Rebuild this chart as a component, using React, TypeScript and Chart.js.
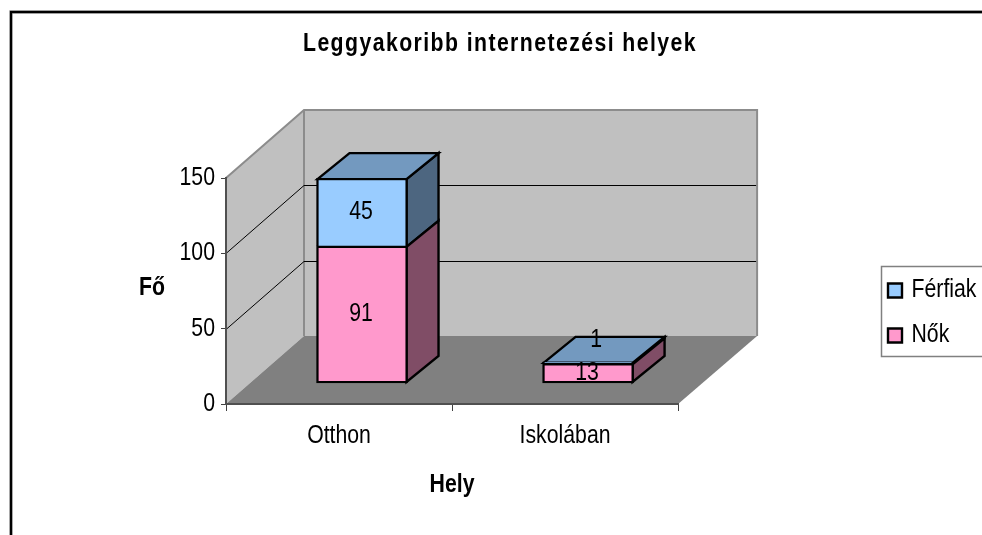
import React, { useEffect, useRef } from "react";
import { Chart, registerables } from "chart.js";

Chart.register(...registerables);

const categories = ["Otthon", "Iskolában"];
const nokValues = [91, 13];
const ferfiakValues = [45, 1];
const yTicks = [0, 50, 100, 150];
const chartTitle = "Leggyakoribb internetezési helyek";
const xTitle = "Hely";
const yTitle = "Fő";

const FONT = "'Liberation Sans', Arial, sans-serif";
const TEXT_SQUEEZE = 0.85;
const WALL_DX = 78;
const WALL_DY = 68;
const BAR_DX = 32;
const BAR_DY = 26;
const BAR_SHIFT_X = 23 / 226;
const BAR_SHIFT_Y = 21 / (226 / 150);

const poly = (ctx: CanvasRenderingContext2D, pts: number[][], fill: string, stroke?: string, lw = 2.4) => {
  ctx.beginPath();
  pts.forEach((p, i) => (i ? ctx.lineTo(p[0], p[1]) : ctx.moveTo(p[0], p[1])));
  ctx.closePath();
  ctx.fillStyle = fill;
  ctx.fill();
  if (stroke) {
    ctx.strokeStyle = stroke;
    ctx.lineWidth = lw;
    ctx.lineJoin = "miter";
    ctx.stroke();
  }
};

const scene = {
  id: "scene3d",
  afterLayout(chart: any) {
    const lg = chart.legend;
    lg.left = 868;
    lg.right = lg.left + lg.width;
    lg.top = 206;
    lg.bottom = 420;
    const tb = chart.titleBlock;
    if (!tb._spaced) {
      tb._spaced = true;
      const d = tb.draw.bind(tb);
      tb.draw = () => {
        (chart.ctx as any).letterSpacing = "1.67px";
        d();
        (chart.ctx as any).letterSpacing = "0px";
      };
      const ld = lg.draw.bind(lg);
      lg.draw = () => {
        (chart.ctx as any)._textShift = -3;
        ld();
        (chart.ctx as any)._textShift = 0;
      };
    }
  },
  beforeDraw(chart: any) {
    const ctx: CanvasRenderingContext2D = chart.ctx;
    const { x, y } = chart.scales;
    const l = x.left, r = x.right;
    const top = y.getPixelForValue(150), bot = y.getPixelForValue(0);
    ctx.save();
    ctx.fillStyle = "#fff";
    ctx.fillRect(0, 0, chart.width, chart.height);
    // outer frame
    ctx.strokeStyle = "#d4d4d4";
    ctx.lineWidth = 4;
    ctx.beginPath();
    ctx.moveTo(11, chart.height);
    ctx.lineTo(11, 12);
    ctx.lineTo(chart.width, 12);
    ctx.stroke();
    ctx.strokeStyle = "#000";
    ctx.lineWidth = 2.4;
    ctx.stroke();
    // walls
    poly(ctx, [[l, top], [l + WALL_DX, top - WALL_DY], [l + WALL_DX, bot - WALL_DY], [l, bot]], "#c0c0c0");
    ctx.fillStyle = "#c0c0c0";
    ctx.fillRect(l + WALL_DX, top - WALL_DY, r - l + 1, bot - top);
    poly(ctx, [[l, bot], [l + WALL_DX, bot - WALL_DY], [r + WALL_DX + 1, bot - WALL_DY], [r, bot]], "#808080");
    // wall edges
    ctx.strokeStyle = "#8c8c8c";
    ctx.lineWidth = 2;
    ctx.beginPath();
    ctx.moveTo(l, top);
    ctx.lineTo(l + WALL_DX, top - WALL_DY);
    ctx.lineTo(r + WALL_DX + 1, top - WALL_DY);
    ctx.lineTo(r + WALL_DX + 1, bot - WALL_DY);
    ctx.moveTo(l + WALL_DX, top - WALL_DY);
    ctx.lineTo(l + WALL_DX, bot - WALL_DY);
    ctx.stroke();
    // gridlines
    ctx.strokeStyle = "#000";
    ctx.lineWidth = 1;
    yTicks.slice(1, -1).forEach((v) => {
      const py = Math.round(y.getPixelForValue(v)) + 0.5;
      ctx.beginPath();
      ctx.moveTo(l, py);
      ctx.lineTo(l + WALL_DX, py - WALL_DY);
      ctx.lineTo(r + WALL_DX, py - WALL_DY);
      ctx.stroke();
    });
    // legend frame
    ctx.strokeStyle = "#808080";
    ctx.lineWidth = 1.5;
    ctx.beginPath();
    ctx.moveTo(chart.width, 266.5);
    ctx.lineTo(881.5, 266.5);
    ctx.lineTo(881.5, 356.5);
    ctx.lineTo(chart.width, 356.5);
    ctx.stroke();
    ctx.restore();
  },
  beforeDatasetsDraw(chart: any) {
    const ctx: CanvasRenderingContext2D = chart.ctx;
    const metas = [chart.getDatasetMeta(0), chart.getDatasetMeta(1)];
    const sideCols = ["#804D66", "#4D6680"];
    const topCol = "#7399BF";
    ctx.save();
    metas.slice().reverse().forEach((meta: any, rev: number) => {
      const di = metas.length - 1 - rev;
      meta.data.forEach((bar: any) => {
        const { x, y, base, width } = bar.getProps(["x", "y", "base", "width"], true);
        const R = x + width / 2 - 1;
        const low = di === 0 ? base - 1 : base + 1;
        poly(ctx, [[R, y + 1], [R + BAR_DX, y + 1 - BAR_DY], [R + BAR_DX, low - BAR_DY], [R, low]], sideCols[di], "#000");
        if (di === metas.length - 1) {
          const L = x - width / 2 + 1;
          poly(ctx, [[L, y + 1], [L + BAR_DX, y + 1 - BAR_DY], [R + BAR_DX, y + 1 - BAR_DY], [R, y + 1]], topCol, "#000");
        }
      });
    });
    ctx.restore();
  },
  afterDatasetsDraw(chart: any) {
    const ctx: CanvasRenderingContext2D = chart.ctx;
    ctx.save();
    ctx.fillStyle = "#000";
    ctx.textAlign = "center";
    ctx.textBaseline = "middle";
    ctx.font = `25px ${FONT}`;
    chart.data.datasets.forEach((ds: any, di: number) => {
      chart.getDatasetMeta(di).data.forEach((bar: any, i: number) => {
        const { x, y, base } = bar.getProps(["x", "y", "base"], true);
        const thin = Math.abs(base - y) < 5;
        const lx = thin ? x + 8 : x - 1;
        const ly = thin ? y - 22 : (y + base) / 2;
        ctx.fillText(String(ds.data[i].y), lx, ly);
      });
    });
    ctx.font = `bold 25px ${FONT}`;
    ctx.fillText(yTitle, 152, 288);
    ctx.restore();
  },
};

export default function App() {
  const ref = useRef<HTMLCanvasElement>(null);
  useEffect(() => {
    document.body.style.margin = "0";
    document.body.style.overflow = "hidden";
    const canvas = ref.current as HTMLCanvasElement;
    const c2d = canvas.getContext("2d") as any;
    // The reference's type is taller than it is wide: squeeze every text run around its anchor.
    const rawFillText = c2d.fillText.bind(c2d);
    c2d.fillText = (t: string, px: number, py: number, maxW?: number) => {
      c2d.save();
      c2d.translate(px + (c2d._textShift || 0), 0);
      c2d.scale(TEXT_SQUEEZE, 1);
      if (maxW === undefined) rawFillText(t, 0, py);
      else rawFillText(t, 0, py, maxW / TEXT_SQUEEZE);
      c2d.restore();
    };
    const chart = new Chart(canvas, {
      type: "bar",
      data: {
        labels: categories,
        datasets: [
          {
            label: "Nők",
            data: nokValues.map((v, i) => ({ x: i, y: v })),
            backgroundColor: "#FF99CC",
            borderColor: "#000",
            borderWidth: 2.4,
            borderSkipped: false,
            barThickness: 91,
            xAxisID: "xBars",
            yAxisID: "yBars",
          },
          {
            label: "Férfiak",
            data: ferfiakValues.map((v, i) => ({ x: i, y: v })),
            backgroundColor: "#99CCFF",
            borderColor: "#000",
            borderWidth: 2.4,
            borderSkipped: "bottom",
            barThickness: 91,
            xAxisID: "xBars",
            yAxisID: "yBars",
          },
        ],
      } as any,
      options: {
        responsive: false,
        animation: false,
        layout: { padding: { left: 18, top: 0, right: 0, bottom: 0 } },
        plugins: {
          tooltip: { enabled: false },
          title: {
            display: true,
            text: chartTitle,
            color: "#000",
            font: { family: FONT, size: 25, weight: "bold", lineHeight: 1.2 },
            padding: { top: 29, bottom: 119 },
          },
          legend: {
            display: true,
            position: "right",
            reverse: true,
            labels: {
              boxWidth: 14,
              boxHeight: 14,
              padding: 20,
              color: "#000",
              font: { family: FONT, size: 25, lineHeight: 1 },
            },
          },
        },
        scales: {
          x: {
            type: "category",
            position: "bottom",
            offset: true,
            grid: { offset: true, drawOnChartArea: false, drawTicks: true, tickLength: 7, color: "#404040", lineWidth: 1 },
            border: { display: true, color: "#505050", width: 2 },
            ticks: { color: "#000", padding: 10, maxRotation: 0, font: { family: FONT, size: 25 } },
            title: {
              display: true,
              text: xTitle,
              color: "#000",
              font: { family: FONT, size: 25, weight: "bold", lineHeight: 1.2 },
              padding: { top: 0, bottom: 35 },
            },
            afterFit(s: any) {
              s.height = 131;
            },
          },
          y: {
            type: "linear",
            position: "left",
            min: 0,
            max: 150,
            afterBuildTicks(s: any) {
              s.ticks = yTicks.map((value) => ({ value }));
            },
            grid: { drawOnChartArea: false, drawTicks: true, tickLength: 5, color: "#404040", lineWidth: 1 },
            border: { display: true, color: "#505050", width: 2 },
            ticks: { color: "#000", padding: 6, font: { family: FONT, size: 25 } },
            afterFit(s: any) {
              s.width = 208;
            },
          },
          xBars: {
            type: "linear",
            position: "bottom",
            display: false,
            stacked: true,
            offset: false,
            min: -0.5 - BAR_SHIFT_X,
            max: 1.5 - BAR_SHIFT_X,
          },
          yBars: {
            type: "linear",
            position: "right",
            stacked: true,
            min: -BAR_SHIFT_Y,
            max: 150 - BAR_SHIFT_Y,
            grid: { display: false },
            border: { display: false },
            ticks: { display: false },
            afterFit(s: any) {
              s.width = 171;
            },
          },
        },
      } as any,
      plugins: [scene],
    });
    return () => chart.destroy();
  }, []);
  return (
    <div style={{ position: "absolute", left: 0, top: 0, width: 982, height: 535 }}>
      <canvas ref={ref} width={982} height={535} style={{ display: "block" }} />
    </div>
  );
}
